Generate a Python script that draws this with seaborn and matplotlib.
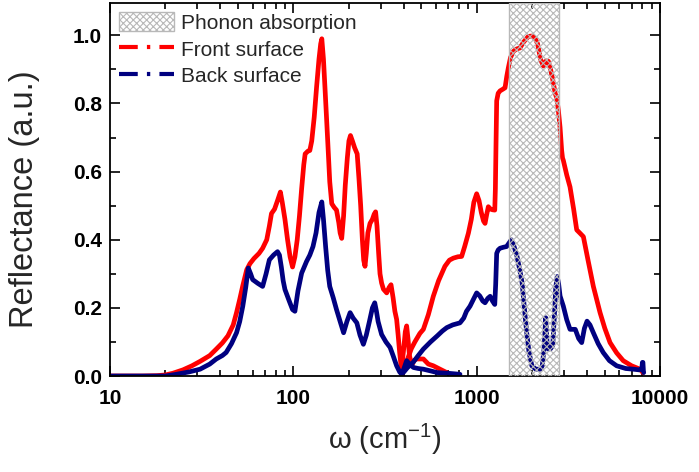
import numpy as np
import pandas as pd
import matplotlib
matplotlib.use("Agg")
import matplotlib.pyplot as plt
import seaborn as sns
from matplotlib.patches import Patch
from matplotlib.lines import Line2D
from matplotlib.ticker import FixedLocator, NullFormatter, LogLocator

# ---------------- data ----------------
front_far_x = [10, 15, 18, 20, 22, 25, 28, 31, 35, 38, 41, 44, 47, 49, 51, 53, 55.7, 58, 61, 65,
               68, 71.6, 74, 76, 79, 82, 85, 87, 90, 93, 96, 99, 102, 105, 108, 111, 114, 116,
               120, 123, 126, 130, 134, 138, 141, 143, 146, 149, 152, 155, 158, 162, 167, 172,
               177, 180, 183.6, 188, 192, 197, 201, 205, 210, 216, 223, 228, 233, 238, 242, 246,
               250, 255, 262, 270, 276, 281, 286, 292, 297, 303, 310, 323, 333, 341, 350, 358,
               366, 373, 380, 386, 390, 400, 408, 415, 422, 430, 442, 455, 470, 490, 512, 545,
               580, 631, 687]
front_far_y = [0.0, 0.0, 0.001, 0.003, 0.008, 0.018, 0.03, 0.043, 0.06, 0.079, 0.097, 0.118, 0.15,
               0.186, 0.225, 0.265, 0.312, 0.33, 0.345, 0.36, 0.375, 0.40, 0.44, 0.477, 0.49,
               0.515, 0.54, 0.51, 0.46, 0.40, 0.35, 0.32, 0.35, 0.40, 0.47, 0.55, 0.62, 0.652,
               0.66, 0.662, 0.69, 0.76, 0.85, 0.93, 0.975, 0.99, 0.93, 0.84, 0.75, 0.66, 0.57,
               0.506, 0.495, 0.487, 0.45, 0.42, 0.404, 0.47, 0.56, 0.64, 0.69, 0.706, 0.69, 0.67,
               0.652, 0.58, 0.50, 0.40, 0.34, 0.322, 0.36, 0.42, 0.448, 0.46, 0.475, 0.482, 0.44,
               0.36, 0.30, 0.273, 0.255, 0.244, 0.26, 0.268, 0.23, 0.19, 0.166, 0.12, 0.07, 0.035,
               0.025, 0.08, 0.13, 0.147, 0.11, 0.06, 0.03, 0.045, 0.05, 0.05, 0.05, 0.035, 0.03,
               0.02, 0.01]

front_mid_x = [390, 400, 420, 440, 460, 490, 512, 545, 580, 620, 671, 710, 746, 790, 828, 860, 901,
               935, 965, 1000, 1030, 1060, 1090, 1111, 1135, 1158, 1190, 1220, 1255, 1265, 1275,
               1286, 1310, 1341, 1390, 1428, 1460, 1489, 1530, 1585, 1650, 1722, 1800, 1913,
               2000, 2081, 2150, 2230, 2310, 2390, 2460, 2530, 2600, 2680, 2731, 2790, 2850,
               2908, 2940, 2970, 3100, 3230, 3380, 3513, 3650, 3820, 4050, 4330, 4710, 5000,
               5340, 5800, 6300, 7000, 7780, 8070]
front_mid_y = [0.005, 0.02, 0.05, 0.08, 0.10, 0.125, 0.137, 0.18, 0.234, 0.28, 0.322, 0.34, 0.346,
               0.35, 0.351, 0.38, 0.419, 0.46, 0.51, 0.535, 0.515, 0.48, 0.455, 0.448, 0.475,
               0.497, 0.49, 0.488, 0.487, 0.55, 0.68, 0.808, 0.83, 0.837, 0.842, 0.846, 0.88,
               0.905, 0.935, 0.953, 0.96, 0.963, 0.98, 0.997, 0.998, 0.992, 0.975, 0.93, 0.91,
               0.925, 0.924, 0.90, 0.87, 0.83, 0.817, 0.78, 0.73, 0.662, 0.64, 0.633, 0.59, 0.555,
               0.49, 0.429, 0.42, 0.409, 0.34, 0.263, 0.186, 0.14, 0.098, 0.068, 0.045, 0.03,
               0.02, 0.01]

back_far_x = [10, 20, 23, 27, 31, 35, 38, 41, 43, 46, 49, 51, 53, 55, 56.8, 58.5, 60, 64, 68, 71,
              74, 78, 82, 84, 86, 88, 90, 95, 99, 102, 106, 111, 118, 123, 128, 133, 138, 143,
              146, 150, 154, 158, 165, 172, 180, 188, 196, 204, 212, 222, 231, 241, 250, 260,
              270, 278, 284, 290, 303, 320, 337, 350, 366, 380, 390, 400, 415, 430, 452, 480,
              512, 560, 610, 700, 811]
back_far_y = [0.0, 0.0, 0.005, 0.012, 0.02, 0.035, 0.05, 0.06, 0.069, 0.095, 0.127, 0.16, 0.205,
              0.26, 0.317, 0.30, 0.283, 0.272, 0.263, 0.30, 0.341, 0.355, 0.365, 0.355, 0.32,
              0.28, 0.254, 0.22, 0.195, 0.19, 0.25, 0.302, 0.336, 0.355, 0.38, 0.42, 0.48, 0.511,
              0.46, 0.38, 0.31, 0.263, 0.23, 0.195, 0.16, 0.127, 0.16, 0.186, 0.17, 0.156, 0.12,
              0.093, 0.12, 0.16, 0.20, 0.215, 0.19, 0.16, 0.122, 0.10, 0.084, 0.06, 0.03, 0.012,
              0.005, 0.02, 0.045, 0.035, 0.025, 0.022, 0.02, 0.015, 0.01, 0.008, 0.005]

back_mid_x = [398, 420, 450, 480, 512, 560, 610, 650, 687, 740, 811, 850, 880, 920, 960, 1000,
              1040, 1080, 1111, 1150, 1185, 1220, 1255, 1270, 1286, 1310, 1341, 1400, 1456, 1500,
              1545, 1600, 1660, 1720, 1770, 1820, 1875, 1930, 2000, 2100, 2220, 2280, 2330, 2380,
              2420, 2460, 2530, 2600, 2650, 2700, 2750, 2800, 2850, 2970, 3100, 3230, 3450, 3600,
              3740, 3870, 4000, 4150, 4330, 4600, 4900, 5300, 5800, 6500, 7150, 7700, 7950, 8020,
              8070, 8120, 8150]
back_mid_y = [0.01, 0.025, 0.04, 0.06, 0.079, 0.10, 0.118, 0.132, 0.142, 0.15, 0.156, 0.17, 0.19,
              0.205, 0.225, 0.244, 0.235, 0.22, 0.215, 0.228, 0.234, 0.22, 0.21, 0.27, 0.36, 0.37,
              0.375, 0.378, 0.38, 0.39, 0.40, 0.38, 0.351, 0.31, 0.273, 0.20, 0.127, 0.07, 0.03,
              0.02, 0.02, 0.03, 0.08, 0.171, 0.10, 0.079, 0.08, 0.09, 0.17, 0.26, 0.292, 0.27,
              0.235, 0.205, 0.165, 0.137, 0.137, 0.11, 0.098, 0.14, 0.161, 0.15, 0.127, 0.095,
              0.069, 0.045, 0.03, 0.022, 0.02, 0.018, 0.02, 0.04, 0.04, 0.015, 0.01]

band = (1500, 2800)
x_ticks = [10, 100, 1000, 10000]
x_tick_labels = ["10", "100", "1000", "10000"]
y_ticks = [0.0, 0.2, 0.4, 0.6, 0.8, 1.0]

labels = ["Phonon absorption", "Front surface", "Back surface"]
front_color = "#ff0000"
back_color = "#000080"

# ---------------- style ----------------
sns.set_theme(style="ticks")
plt.rcParams["font.family"] = ["Liberation Sans", "DejaVu Sans"]
plt.rcParams["mathtext.fontset"] = "custom"
plt.rcParams["mathtext.rm"] = "Liberation Sans"
plt.rcParams["mathtext.it"] = "Liberation Sans"
plt.rcParams["hatch.color"] = "#b8b8b8"
plt.rcParams["hatch.linewidth"] = 0.8

fig = plt.figure(figsize=(6.99, 4.72), dpi=100)
ax = fig.add_axes([110 / 699, 1 - 376 / 472, 550 / 699, 373 / 472])

for xs, ys, c in [(front_far_x, front_far_y, front_color),
                  (front_mid_x, front_mid_y, front_color),
                  (back_far_x, back_far_y, back_color),
                  (back_mid_x, back_mid_y, back_color)]:
    df = pd.DataFrame({"w": xs, "R": ys})
    sns.lineplot(data=df, x="w", y="R", ax=ax, color=c, lw=3.4, sort=False,
                 estimator=None, zorder=2)

ax.axvspan(band[0], band[1], facecolor="none", edgecolor="#b8b8b8", hatch="xxxxx",
           lw=1.0, zorder=3)

ax.set_xscale("log")
ax.set_xlim(10, 10000)
ax.set_ylim(0, 1.095)
ax.set_xticks(x_ticks)
ax.set_xticklabels(x_tick_labels)
ax.xaxis.set_minor_locator(LogLocator(base=10, subs=np.arange(2, 10)))
ax.xaxis.set_minor_formatter(NullFormatter())
ax.set_yticks(y_ticks)
ax.set_yticklabels([f"{v:.1f}" for v in y_ticks])
ax.yaxis.set_minor_locator(FixedLocator(np.arange(0.1, 1.1, 0.2)))

ax.tick_params(which="both", direction="in", top=True, right=True, width=1.2, colors="black")
ax.tick_params(which="major", length=7)
ax.tick_params(which="minor", length=4)
ax.tick_params(axis="both", which="major", labelsize=15)
ax.tick_params(axis="x", which="major", pad=9)
ax.tick_params(axis="y", which="major", pad=6)
for lab in ax.get_xticklabels() + ax.get_yticklabels():
    lab.set_fontweight("bold")
for s in ax.spines.values():
    s.set_linewidth(1.3)
    s.set_color("black")

ax.set_xlabel("ω (cm$^{-1}$)", fontsize=21, labelpad=10)
ax.set_ylabel("Reflectance (a.u.)", fontsize=23.5)
ax.yaxis.set_label_coords(-0.128, 0.475)

handles = [
    Patch(facecolor="white", edgecolor="#b8b8b8", hatch="xxxxx", lw=1.0),
    Line2D([], [], color=front_color, lw=3, linestyle=(0, (4.5, 2.2, 0.8, 2.2))),
    Line2D([], [], color=back_color, lw=3, linestyle=(0, (4.5, 2.2, 0.8, 2.2))),
]
ax.legend(handles, labels, loc="upper left", frameon=False, fontsize=15,
          handlelength=2.6, handleheight=1.0, handletextpad=0.35, labelspacing=0.3,
          borderaxespad=0.25, borderpad=0.2)

fig.savefig("out.png", dpi=100)
